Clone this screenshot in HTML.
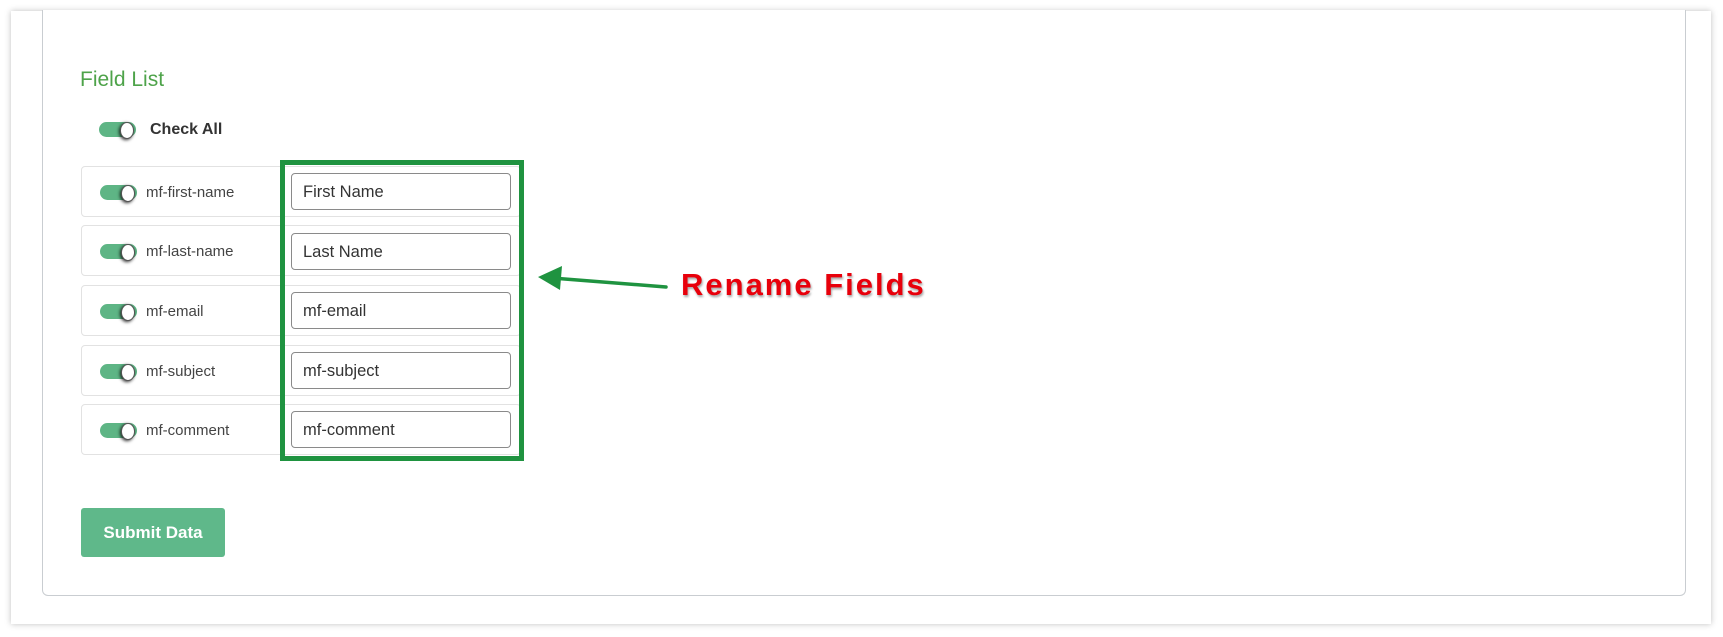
<!DOCTYPE html>
<html><head><meta charset="utf-8"><style>
*{margin:0;padding:0;box-sizing:border-box}
body{width:1723px;height:637px;background:#fff;position:relative;overflow:hidden;font-family:"Liberation Sans",sans-serif}
.panel{position:absolute;left:11px;top:11px;width:1700px;height:613px;background:#fff;box-shadow:0 0 6px rgba(0,0,0,.25)}
.card{position:absolute;left:42px;top:10px;width:1644px;height:586px;border:1px solid #c9cdd1;border-top:none;border-radius:0 0 6px 6px;background:#fff}
.abs{position:absolute}
.title{left:80px;top:68px;font-size:21px;color:#4ea34a}
.tog{position:absolute;width:37px;height:15px;border-radius:8px;background:#5eb585}
.tog::after{content:"";position:absolute;right:2px;top:0px;width:12px;height:15px;border-radius:50%;background:#fff;box-shadow:-1px 1px 3px rgba(0,0,0,.8);border:1px solid #555}
.row{position:absolute;left:81px;width:440px;height:51px;border:1px solid #e2e2e2;border-radius:4px;background:#fff}
.lbl{position:absolute;left:146px;font-size:15px;color:#444}
.inp{position:absolute;left:291px;width:220px;height:37px;border:1px solid #8a8a8a;border-radius:4px;background:#fff;font-size:16.5px;color:#333;padding-left:11px;line-height:37px}
.gbox{position:absolute;left:280px;top:160px;width:244px;height:301px;border:5px solid #1f9340}
.btn{position:absolute;left:81px;top:508px;width:144px;height:49px;background:#5fb88a;border-radius:3px;color:#fff;font-weight:bold;font-size:17px;line-height:49px;text-align:center}
.rf{position:absolute;left:681px;top:267px;font-size:31px;font-weight:bold;color:#e8000b;letter-spacing:2px;text-shadow:1px 2px 2px rgba(0,0,0,.35),0 0 2px #fff}
</style></head><body>
<div class="panel"></div>
<div class="card"></div>
<div class="abs title">Field List</div>
<div class="tog" style="left:99px;top:122px"></div>
<div class="abs" style="left:150px;top:121px;font-size:16px;font-weight:bold;color:#333">Check All</div>

<div class="row" style="top:166px"></div>
<div class="row" style="top:225px"></div>
<div class="row" style="top:285px"></div>
<div class="row" style="top:345px"></div>
<div class="row" style="top:404px"></div>

<div class="tog" style="left:100px;top:185px"></div><div class="lbl" style="top:184px">mf-first-name</div>
<div class="tog" style="left:100px;top:244px"></div><div class="lbl" style="top:243px">mf-last-name</div>
<div class="tog" style="left:100px;top:304px"></div><div class="lbl" style="top:303px">mf-email</div>
<div class="tog" style="left:100px;top:364px"></div><div class="lbl" style="top:363px">mf-subject</div>
<div class="tog" style="left:100px;top:423px"></div><div class="lbl" style="top:422px">mf-comment</div>

<div class="inp" style="top:173px">First Name</div>
<div class="inp" style="top:233px">Last Name</div>
<div class="inp" style="top:292px">mf-email</div>
<div class="inp" style="top:352px">mf-subject</div>
<div class="inp" style="top:411px">mf-comment</div>

<div class="gbox"></div>
<div class="btn">Submit Data</div>

<svg class="abs" style="left:0;top:0" width="1723" height="637">
<line x1="666" y1="287" x2="552" y2="278" stroke="#1f9340" stroke-width="3.5" stroke-linecap="round"/>
<polygon points="538,277 562,266 560,290" fill="#1f9340"/>
</svg>
<div class="rf">Rename Fields</div>
</body></html>
